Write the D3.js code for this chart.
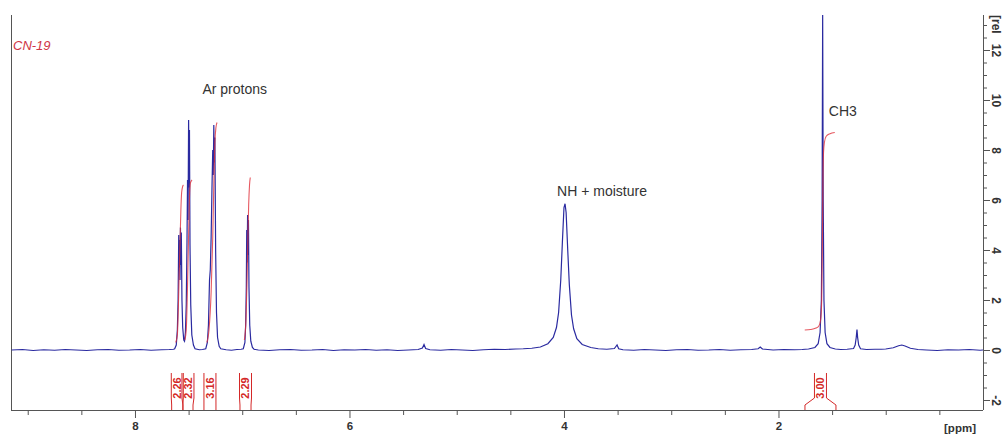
<!DOCTYPE html>
<html><head><meta charset="utf-8">
<script src="https://cdn.jsdelivr.net/npm/d3@7"></script>
<style>
html,body{margin:0;padding:0;background:#fff;}
svg{display:block;font-family:"Liberation Sans",Arial,sans-serif;}
</style></head>
<body><svg id="c" width="1008" height="437"></svg>
<script>
// ---- data ----
const specPpm = [9.15,9.05,8.95,8.85,8.75,8.65,8.55,8.45,8.35,8.25,8.15,8.05,7.95,7.85,7.75,7.68,7.64,
 7.63,7.615,7.605,7.598,7.592,7.588,7.584,7.580,7.576,7.572,7.568,7.562,7.555,7.545,7.538,
 7.530,7.522,7.515,7.510,7.505,7.500,7.496,7.492,7.487,7.480,7.470,7.455,7.44,7.40,7.37,
 7.34,7.325,7.315,7.305,7.298,7.290,7.282,7.275,7.270,7.265,7.260,7.255,7.248,7.240,7.230,7.215,7.20,
 7.15,7.10,7.05,7.01,6.99,6.975,6.968,6.962,6.958,6.954,6.950,6.946,6.942,6.937,6.930,6.920,6.905,6.89,
 6.85,6.75,6.65,6.55,6.45,6.35,6.25,6.15,6.05,5.95,5.85,5.75,5.65,5.55,5.45,5.36,5.32,5.305,5.29,5.25,
 5.15,5.05,4.95,4.85,4.75,4.65,4.55,4.45,4.38,4.30,4.22,4.15,4.10,4.07,4.05,4.03,4.015,4.00,3.99,3.98,
 3.965,3.95,3.93,3.91,3.88,3.83,3.75,3.68,3.60,3.53,3.505,3.49,3.45,3.35,3.25,3.15,3.05,2.95,2.85,2.75,
 2.65,2.55,2.45,2.35,2.25,2.19,2.17,2.15,2.05,1.95,1.85,1.78,1.72,1.66,1.63,1.612,1.600,1.593,1.588,
 1.583,1.576,1.565,1.548,1.52,1.47,1.42,1.36,1.30,1.285,1.275,1.268,1.262,1.252,1.235,1.18,1.10,1.04,
 1.0,0.93,0.88,0.85,0.82,0.77,0.70,0.62,0.52,0.42,0.32,0.22,0.12,0.093];
const specInt = [0.00,0.02,-0.02,0.01,-0.01,0.02,0.00,-0.02,0.01,0.02,-0.01,0.00,0.02,-0.01,0.01,0.02,0.03,
 0.05,0.2,0.8,2.0,4.6,3.3,4.4,2.8,4.9,3.4,4.7,2.0,0.9,0.4,0.35,
 0.7,1.8,4.3,6.8,5.2,9.2,6.5,8.8,4.2,1.8,0.6,0.2,0.05,0.01,0.02,
 0.05,0.3,1.0,2.8,3.2,4.5,6.5,8.0,7.0,9.0,7.5,8.5,4.0,1.5,0.5,0.15,0.05,
 0.01,-0.01,0.02,0.03,0.05,0.3,1.0,2.5,4.8,3.5,5.4,3.8,5.2,2.5,1.0,0.35,0.1,0.03,
 0.00,-0.02,0.01,0.02,-0.01,0.00,0.02,-0.02,0.01,0.00,0.02,-0.01,0.01,-0.02,0.00,0.02,0.08,0.22,0.06,0.01,
 -0.01,0.02,0.00,-0.02,0.01,0.03,0.02,0.04,0.05,0.07,0.12,0.25,0.5,0.9,1.5,2.8,4.3,5.7,5.85,5.5,
 4.0,2.6,1.4,0.85,0.45,0.22,0.1,0.05,0.03,0.06,0.2,0.05,0.01,-0.01,0.02,0.00,-0.02,0.01,0.02,-0.01,
 0.00,0.02,-0.01,0.01,0.02,0.05,0.12,0.04,0.00,0.02,0.01,0.02,0.04,0.1,0.25,0.7,2.0,6.0,13.4,
 6.0,2.0,0.7,0.25,0.1,0.04,0.02,0.03,0.06,0.2,0.5,0.82,0.5,0.2,0.05,0.02,0.03,0.03,
 0.04,0.09,0.17,0.2,0.16,0.07,0.02,0.00,-0.02,0.01,0.00,0.02,-0.01,0.00];

// integral curves (ppm / displayed height)
const int1Ppm = [7.62,7.605,7.595,7.588,7.580,7.572,7.565,7.555,7.548];
const int1Val = [0.3,0.6,1.8,3.0,4.3,5.6,6.3,6.55,6.6];
const int2Ppm = [7.535,7.522,7.512,7.503,7.497,7.490,7.482,7.468];
const int2Val = [0.4,0.8,2.2,4.0,5.2,6.3,6.7,6.8];
const int3Ppm = [7.33,7.31,7.29,7.275,7.265,7.255,7.245,7.235];
const int3Val = [0.3,0.8,2.3,4.5,6.6,8.3,8.9,9.1];
const int4Ppm = [6.98,6.965,6.955,6.948,6.940,6.932,6.925];
const int4Val = [0.4,1.2,2.8,4.3,5.8,6.6,6.9];
const int5Ppm = [1.755,1.70,1.65,1.625,1.607,1.597,1.590,1.585,1.580,1.572,1.555,1.52,1.475];
const int5Val = [0.8,0.82,0.88,0.95,1.2,2.0,4.5,7.0,7.9,8.3,8.55,8.65,8.7];

// integration labels
const intLabels = ["2.26","2.32","3.16","2.29","3.00"];
const intFrom = [7.658,7.553,7.357,7.021,1.753];
const intTo   = [7.553,7.459,7.245,6.918,1.464];

// tick values
const xMajorTicks = [8,6,4,2];
const yMajorTicks = [-2,0,2,4,6,8,10,12];

// annotations
const annTexts = ["Ar protons","NH + moisture","CH3"];
const annPpm = [7.07,3.645,1.40];
const annVal = [10.25,6.15,9.35];

// ---- drawing ----
const svg = d3.select("#c");
const L=11,R=983,T=15,B=410;
const x = d3.scaleLinear().domain([9.156,0.093]).range([L,R]);
const y = d3.scaleLinear().domain([-2.4,13.4]).range([B,T]);

svg.append("defs").append("clipPath").attr("id","clip")
  .append("rect").attr("x",L).attr("y",T).attr("width",R-L).attr("height",B-T);

// frame
const axisCol="#555";
svg.append("line").attr("x1",L+0.5).attr("x2",L+0.5).attr("y1",T).attr("y2",B).attr("stroke",axisCol);

// x axis
const xMinor = d3.range(9.0,0.09,-0.5).map(v=>+v.toFixed(1));
const xAxis = d3.axisBottom(x).tickValues(xMinor).tickSize(5).tickSizeOuter(0)
  .tickFormat(d=> xMajorTicks.includes(d) ? d : "");
const gx = svg.append("g").attr("transform",`translate(0,${B})`).call(xAxis);
gx.select(".domain").attr("stroke",axisCol).attr("d",`M${L},0.5H${R}`);
gx.selectAll(".tick line").attr("stroke",axisCol)
  .attr("y2",d=> xMajorTicks.includes(d)?8:5);
gx.selectAll(".tick text").attr("y",12).attr("fill","#333")
  .style("font-size","11.5px").style("font-weight","bold");
svg.append("text").attr("x",960).attr("y",432).attr("text-anchor","middle")
  .attr("fill","#333").style("font-size","11.5px").style("font-weight","bold").text("[ppm]");

// y axis (right)
const yMinor = d3.range(-2,13.01,0.5).map(v=>+v.toFixed(1));
const yAxis = d3.axisRight(y).tickValues(yMinor).tickSize(4).tickSizeOuter(0)
  .tickFormat(d=> yMajorTicks.includes(d) ? d : "");
const gy = svg.append("g").attr("transform",`translate(${R},0)`).call(yAxis);
gy.select(".domain").attr("stroke",axisCol).attr("d",`M0.5,${T}V${B}`);
gy.selectAll(".tick line").attr("stroke",axisCol).attr("x2",d=> yMajorTicks.includes(d)?7:4);
gy.selectAll(".tick text").attr("x",0)
  .attr("transform","translate(13,0) rotate(90)")
  .attr("text-anchor","middle").attr("dy","0.35em").attr("fill","#333")
  .style("font-size","12px").style("font-weight","bold");
svg.append("text").attr("transform",`translate(${R+13},${T}) rotate(90)`)
  .attr("dy","0.35em").attr("fill","#333")
  .style("font-size","12px").style("font-weight","bold").text("[rel");

// spectrum
const spec = specPpm.map((p,i)=>[p,specInt[i]]);
const line = d3.line().x(d=>x(d[0])).y(d=>y(d[1]));
const plot = svg.append("g").attr("clip-path","url(#clip)");
plot.append("path").datum(spec).attr("d",line).attr("fill","none")
  .attr("stroke","#2a2aa0").attr("stroke-width",1.2);

// integral curves
const ints = [[int1Ppm,int1Val],[int2Ppm,int2Val],[int3Ppm,int3Val],[int4Ppm,int4Val],[int5Ppm,int5Val]];
const iline = d3.line().x(d=>x(d[0])).y(d=>y(d[1])).curve(d3.curveMonotoneX);
ints.forEach(([pp,vv])=>{
  plot.append("path").datum(pp.map((p,i)=>[p,vv[i]])).attr("d",iline)
    .attr("fill","none").attr("stroke","#e0303a").attr("stroke-width",1.1).attr("stroke-opacity",0.8);
});

// integration labels
const red="#d42828";
intLabels.forEach((lab,i)=>{
  const xa=x(intFrom[i]), xb=x(intTo[i]), cx=(xa+xb)/2, hw=6;
  const g=svg.append("g");
  [[xa,cx-hw],[xb,cx+hw]].forEach(([xe,xt])=>{
    g.append("path").attr("d",`M${xe},${B}V${B-5}L${xt},${B-12}V${T+358}`)
      .attr("fill","none").attr("stroke",red).attr("stroke-width",1);
  });
  g.append("text").attr("transform",`translate(${cx},${388}) rotate(-90)`)
    .attr("text-anchor","middle").attr("dy","0.36em").attr("fill",red)
    .style("font-size","11px").style("font-weight","bold").text(lab);
});

// sample label
svg.append("text").attr("x",13).attr("y",50).attr("fill","#d03545")
  .style("font-size","13px").style("font-style","italic").text("CN-19");

// annotations
annTexts.forEach((t,i)=>{
  svg.append("text").attr("x",x(annPpm[i])).attr("y",y(annVal[i])).attr("text-anchor","middle")
    .attr("fill","#333").style("font-size","14px").text(t);
});
</script></body></html>
